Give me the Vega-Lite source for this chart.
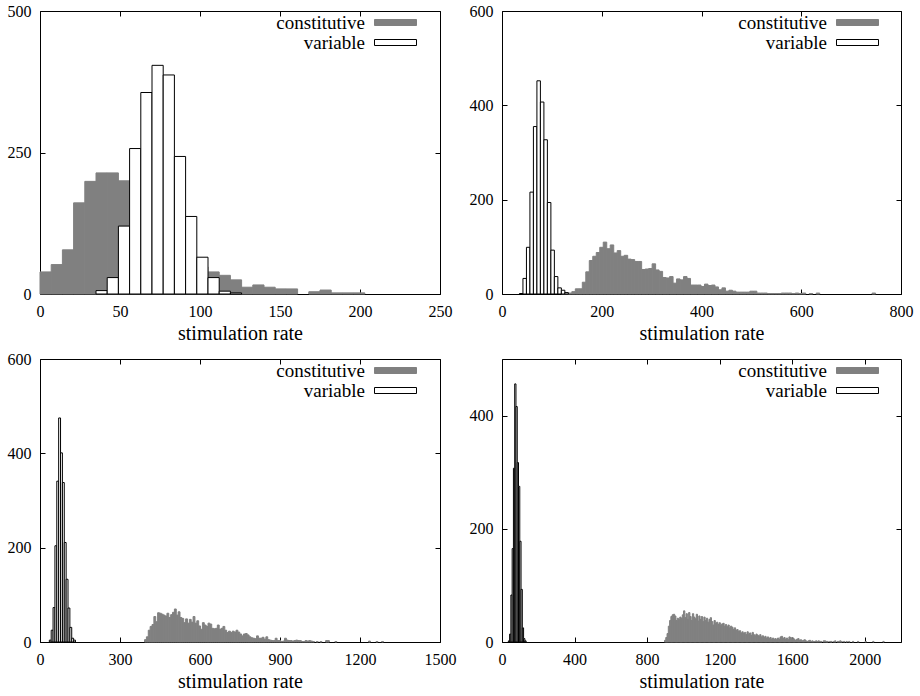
{
"$schema": "https://vega.github.io/schema/vega-lite/v6.json",
"padding": {"left": 6, "top": 2, "right": 5, "bottom": 3},
"background": "white",
"config": {
 "view": {"stroke": "#000000", "strokeWidth": 1},
 "axis": {"grid": false, "domain": false, "tickColor": "#000000", "tickSize": -5, "tickWidth": 1, "labelColor": "#000000", "labelPadding": 14, "titleFontWeight": "normal", "titleColor": "#000000", "titlePadding": 4, "labelFlush": false, "labelOverlap": false, "format": "d"},
 "legend": {"title": null, "orient": "none", "legendX": 346, "legendY": 2, "symbolType": "M-3.5,-0.5H3.5V0.5H-3.5Z", "symbolSize": 144, "symbolStrokeWidth": 1, "symbolOpacity": 1, "labelColor": "#000000", "labelAlign": "right", "labelOffset": -40, "rowPadding": 0, "padding": 0}
},
"datasets": {
 "p1": [
  {"series":"constitutive","start":0,"end":7,"count":39},
  {"series":"constitutive","start":7,"end":14,"count":52},
  {"series":"constitutive","start":14,"end":21,"count":78},
  {"series":"constitutive","start":21,"end":28,"count":161},
  {"series":"constitutive","start":28,"end":35,"count":199},
  {"series":"constitutive","start":35,"end":42,"count":214},
  {"series":"constitutive","start":42,"end":49,"count":214},
  {"series":"constitutive","start":49,"end":56,"count":200},
  {"series":"constitutive","start":56,"end":63,"count":172},
  {"series":"constitutive","start":63,"end":70,"count":145},
  {"series":"constitutive","start":70,"end":77,"count":120},
  {"series":"constitutive","start":77,"end":84,"count":100},
  {"series":"constitutive","start":84,"end":91,"count":80},
  {"series":"constitutive","start":91,"end":98,"count":62},
  {"series":"constitutive","start":98,"end":105,"count":48},
  {"series":"constitutive","start":105,"end":112,"count":39},
  {"series":"constitutive","start":112,"end":119,"count":33},
  {"series":"constitutive","start":119,"end":126,"count":25},
  {"series":"constitutive","start":126,"end":133,"count":12},
  {"series":"constitutive","start":133,"end":140,"count":16},
  {"series":"constitutive","start":140,"end":147,"count":12},
  {"series":"constitutive","start":147,"end":154,"count":9},
  {"series":"constitutive","start":154,"end":161,"count":9},
  {"series":"constitutive","start":168,"end":175,"count":4},
  {"series":"constitutive","start":175,"end":182,"count":7},
  {"series":"constitutive","start":182,"end":189,"count":2},
  {"series":"constitutive","start":189,"end":196,"count":2},
  {"series":"constitutive","start":196,"end":203,"count":2},
  {"series":"variable","start":35,"end":42,"count":6},
  {"series":"variable","start":42,"end":49,"count":29},
  {"series":"variable","start":49,"end":56,"count":120},
  {"series":"variable","start":56,"end":63,"count":257},
  {"series":"variable","start":63,"end":70,"count":356},
  {"series":"variable","start":70,"end":77,"count":404},
  {"series":"variable","start":77,"end":84,"count":387},
  {"series":"variable","start":84,"end":91,"count":243},
  {"series":"variable","start":91,"end":98,"count":137},
  {"series":"variable","start":98,"end":105,"count":65},
  {"series":"variable","start":105,"end":112,"count":29},
  {"series":"variable","start":112,"end":119,"count":5},
  {"series":"variable","start":119,"end":126,"count":2}
 ],
 "p2": [
  {"series":"constitutive","start":119,"end":126,"count":1},
  {"series":"constitutive","start":126,"end":133,"count":2},
  {"series":"constitutive","start":133,"end":140,"count":2},
  {"series":"constitutive","start":140,"end":147,"count":5},
  {"series":"constitutive","start":147,"end":154,"count":11},
  {"series":"constitutive","start":154,"end":161,"count":11},
  {"series":"constitutive","start":161,"end":168,"count":25},
  {"series":"constitutive","start":168,"end":175,"count":47},
  {"series":"constitutive","start":175,"end":182,"count":71},
  {"series":"constitutive","start":182,"end":189,"count":80},
  {"series":"constitutive","start":189,"end":196,"count":88},
  {"series":"constitutive","start":196,"end":203,"count":99},
  {"series":"constitutive","start":203,"end":210,"count":110},
  {"series":"constitutive","start":210,"end":217,"count":96},
  {"series":"constitutive","start":217,"end":224,"count":104},
  {"series":"constitutive","start":224,"end":231,"count":87},
  {"series":"constitutive","start":231,"end":238,"count":92},
  {"series":"constitutive","start":238,"end":245,"count":80},
  {"series":"constitutive","start":245,"end":252,"count":82},
  {"series":"constitutive","start":252,"end":259,"count":74},
  {"series":"constitutive","start":259,"end":266,"count":73},
  {"series":"constitutive","start":266,"end":273,"count":69},
  {"series":"constitutive","start":273,"end":280,"count":69},
  {"series":"constitutive","start":280,"end":287,"count":52},
  {"series":"constitutive","start":287,"end":294,"count":53},
  {"series":"constitutive","start":294,"end":301,"count":54},
  {"series":"constitutive","start":301,"end":308,"count":64},
  {"series":"constitutive","start":308,"end":315,"count":51},
  {"series":"constitutive","start":315,"end":322,"count":48},
  {"series":"constitutive","start":322,"end":329,"count":35},
  {"series":"constitutive","start":329,"end":336,"count":34},
  {"series":"constitutive","start":336,"end":343,"count":37},
  {"series":"constitutive","start":343,"end":350,"count":23},
  {"series":"constitutive","start":350,"end":357,"count":32},
  {"series":"constitutive","start":357,"end":364,"count":30},
  {"series":"constitutive","start":364,"end":371,"count":37},
  {"series":"constitutive","start":371,"end":378,"count":33},
  {"series":"constitutive","start":378,"end":385,"count":19},
  {"series":"constitutive","start":385,"end":392,"count":19},
  {"series":"constitutive","start":392,"end":399,"count":19},
  {"series":"constitutive","start":399,"end":406,"count":16},
  {"series":"constitutive","start":406,"end":413,"count":21},
  {"series":"constitutive","start":413,"end":420,"count":18},
  {"series":"constitutive","start":420,"end":427,"count":19},
  {"series":"constitutive","start":427,"end":434,"count":15},
  {"series":"constitutive","start":434,"end":441,"count":9},
  {"series":"constitutive","start":441,"end":448,"count":13},
  {"series":"constitutive","start":448,"end":455,"count":6},
  {"series":"constitutive","start":455,"end":462,"count":8},
  {"series":"constitutive","start":462,"end":469,"count":6},
  {"series":"constitutive","start":469,"end":476,"count":4},
  {"series":"constitutive","start":476,"end":483,"count":4},
  {"series":"constitutive","start":483,"end":490,"count":4},
  {"series":"constitutive","start":490,"end":497,"count":4},
  {"series":"constitutive","start":497,"end":504,"count":6},
  {"series":"constitutive","start":504,"end":511,"count":6},
  {"series":"constitutive","start":511,"end":518,"count":2},
  {"series":"constitutive","start":518,"end":525,"count":2},
  {"series":"constitutive","start":525,"end":532,"count":2},
  {"series":"constitutive","start":532,"end":539,"count":1},
  {"series":"constitutive","start":539,"end":546,"count":1},
  {"series":"constitutive","start":546,"end":553,"count":1},
  {"series":"constitutive","start":553,"end":560,"count":1},
  {"series":"constitutive","start":560,"end":567,"count":2},
  {"series":"constitutive","start":567,"end":574,"count":2},
  {"series":"constitutive","start":574,"end":581,"count":2},
  {"series":"constitutive","start":581,"end":588,"count":1},
  {"series":"constitutive","start":588,"end":595,"count":2},
  {"series":"constitutive","start":595,"end":602,"count":1},
  {"series":"constitutive","start":602,"end":609,"count":2},
  {"series":"constitutive","start":616,"end":623,"count":1},
  {"series":"constitutive","start":630,"end":637,"count":2},
  {"series":"constitutive","start":742,"end":749,"count":2},
  {"series":"variable","start":35,"end":42,"count":1},
  {"series":"variable","start":42,"end":49,"count":33},
  {"series":"variable","start":49,"end":56,"count":99},
  {"series":"variable","start":56,"end":63,"count":216},
  {"series":"variable","start":63,"end":70,"count":355},
  {"series":"variable","start":70,"end":77,"count":452},
  {"series":"variable","start":77,"end":84,"count":407},
  {"series":"variable","start":84,"end":91,"count":327},
  {"series":"variable","start":91,"end":98,"count":194},
  {"series":"variable","start":98,"end":105,"count":93},
  {"series":"variable","start":105,"end":112,"count":37},
  {"series":"variable","start":112,"end":119,"count":13},
  {"series":"variable","start":119,"end":126,"count":8},
  {"series":"variable","start":126,"end":133,"count":3}
 ],
 "p3": [
  {"series":"constitutive","start":392,"end":399,"count":5},
  {"series":"constitutive","start":399,"end":406,"count":11},
  {"series":"constitutive","start":406,"end":413,"count":25},
  {"series":"constitutive","start":413,"end":420,"count":33},
  {"series":"constitutive","start":420,"end":427,"count":37},
  {"series":"constitutive","start":427,"end":434,"count":54},
  {"series":"constitutive","start":434,"end":441,"count":43},
  {"series":"constitutive","start":441,"end":448,"count":62},
  {"series":"constitutive","start":448,"end":455,"count":61},
  {"series":"constitutive","start":455,"end":462,"count":59},
  {"series":"constitutive","start":462,"end":469,"count":57},
  {"series":"constitutive","start":469,"end":476,"count":55},
  {"series":"constitutive","start":476,"end":483,"count":61},
  {"series":"constitutive","start":483,"end":490,"count":52},
  {"series":"constitutive","start":490,"end":497,"count":58},
  {"series":"constitutive","start":497,"end":504,"count":63},
  {"series":"constitutive","start":504,"end":511,"count":70},
  {"series":"constitutive","start":511,"end":518,"count":57},
  {"series":"constitutive","start":518,"end":525,"count":64},
  {"series":"constitutive","start":525,"end":532,"count":52},
  {"series":"constitutive","start":532,"end":539,"count":50},
  {"series":"constitutive","start":539,"end":546,"count":41},
  {"series":"constitutive","start":546,"end":553,"count":49},
  {"series":"constitutive","start":553,"end":560,"count":40},
  {"series":"constitutive","start":560,"end":567,"count":48},
  {"series":"constitutive","start":567,"end":574,"count":42},
  {"series":"constitutive","start":574,"end":581,"count":54},
  {"series":"constitutive","start":581,"end":588,"count":40},
  {"series":"constitutive","start":588,"end":595,"count":45},
  {"series":"constitutive","start":595,"end":602,"count":34},
  {"series":"constitutive","start":602,"end":609,"count":27},
  {"series":"constitutive","start":609,"end":616,"count":41},
  {"series":"constitutive","start":616,"end":623,"count":36},
  {"series":"constitutive","start":623,"end":630,"count":33},
  {"series":"constitutive","start":630,"end":637,"count":40},
  {"series":"constitutive","start":637,"end":644,"count":38},
  {"series":"constitutive","start":644,"end":651,"count":29},
  {"series":"constitutive","start":651,"end":658,"count":28},
  {"series":"constitutive","start":658,"end":665,"count":29},
  {"series":"constitutive","start":665,"end":672,"count":36},
  {"series":"constitutive","start":672,"end":679,"count":27},
  {"series":"constitutive","start":679,"end":686,"count":29},
  {"series":"constitutive","start":686,"end":693,"count":33},
  {"series":"constitutive","start":693,"end":700,"count":25},
  {"series":"constitutive","start":700,"end":707,"count":20},
  {"series":"constitutive","start":707,"end":714,"count":23},
  {"series":"constitutive","start":714,"end":721,"count":20},
  {"series":"constitutive","start":721,"end":728,"count":23},
  {"series":"constitutive","start":728,"end":735,"count":21},
  {"series":"constitutive","start":735,"end":742,"count":25},
  {"series":"constitutive","start":742,"end":749,"count":21},
  {"series":"constitutive","start":749,"end":756,"count":17},
  {"series":"constitutive","start":756,"end":763,"count":13},
  {"series":"constitutive","start":763,"end":770,"count":17},
  {"series":"constitutive","start":770,"end":777,"count":18},
  {"series":"constitutive","start":777,"end":784,"count":15},
  {"series":"constitutive","start":784,"end":791,"count":11},
  {"series":"constitutive","start":791,"end":798,"count":9},
  {"series":"constitutive","start":798,"end":805,"count":8},
  {"series":"constitutive","start":805,"end":812,"count":7},
  {"series":"constitutive","start":812,"end":819,"count":13},
  {"series":"constitutive","start":819,"end":826,"count":8},
  {"series":"constitutive","start":826,"end":833,"count":8},
  {"series":"constitutive","start":833,"end":840,"count":10},
  {"series":"constitutive","start":840,"end":847,"count":6},
  {"series":"constitutive","start":847,"end":854,"count":11},
  {"series":"constitutive","start":854,"end":861,"count":5},
  {"series":"constitutive","start":861,"end":868,"count":4},
  {"series":"constitutive","start":868,"end":875,"count":3},
  {"series":"constitutive","start":875,"end":882,"count":3},
  {"series":"constitutive","start":882,"end":889,"count":8},
  {"series":"constitutive","start":889,"end":896,"count":3},
  {"series":"constitutive","start":896,"end":903,"count":3},
  {"series":"constitutive","start":903,"end":910,"count":1},
  {"series":"constitutive","start":910,"end":917,"count":2},
  {"series":"constitutive","start":917,"end":924,"count":8},
  {"series":"constitutive","start":924,"end":931,"count":4},
  {"series":"constitutive","start":931,"end":938,"count":3},
  {"series":"constitutive","start":938,"end":945,"count":3},
  {"series":"constitutive","start":945,"end":952,"count":2},
  {"series":"constitutive","start":952,"end":959,"count":3},
  {"series":"constitutive","start":959,"end":966,"count":4},
  {"series":"constitutive","start":966,"end":973,"count":3},
  {"series":"constitutive","start":973,"end":980,"count":3},
  {"series":"constitutive","start":980,"end":987,"count":1},
  {"series":"constitutive","start":987,"end":994,"count":1},
  {"series":"constitutive","start":994,"end":1001,"count":3},
  {"series":"constitutive","start":1001,"end":1008,"count":2},
  {"series":"constitutive","start":1008,"end":1015,"count":3},
  {"series":"constitutive","start":1015,"end":1022,"count":2},
  {"series":"constitutive","start":1022,"end":1029,"count":1},
  {"series":"constitutive","start":1036,"end":1043,"count":1},
  {"series":"constitutive","start":1050,"end":1057,"count":1},
  {"series":"constitutive","start":1071,"end":1078,"count":3},
  {"series":"constitutive","start":1078,"end":1085,"count":3},
  {"series":"constitutive","start":1106,"end":1113,"count":1},
  {"series":"constitutive","start":1232,"end":1239,"count":2},
  {"series":"constitutive","start":1260,"end":1267,"count":1},
  {"series":"constitutive","start":1281,"end":1288,"count":1},
  {"series":"variable","start":35,"end":42,"count":4},
  {"series":"variable","start":42,"end":49,"count":25},
  {"series":"variable","start":49,"end":56,"count":73},
  {"series":"variable","start":56,"end":63,"count":204},
  {"series":"variable","start":63,"end":70,"count":341},
  {"series":"variable","start":70,"end":77,"count":475},
  {"series":"variable","start":77,"end":84,"count":401},
  {"series":"variable","start":84,"end":91,"count":338},
  {"series":"variable","start":91,"end":98,"count":211},
  {"series":"variable","start":98,"end":105,"count":133},
  {"series":"variable","start":105,"end":112,"count":72},
  {"series":"variable","start":112,"end":119,"count":31},
  {"series":"variable","start":119,"end":126,"count":8},
  {"series":"variable","start":126,"end":133,"count":4}
 ],
 "p4": [
  {"series":"constitutive","start":896,"end":903,"count":3},
  {"series":"constitutive","start":903,"end":910,"count":8},
  {"series":"constitutive","start":910,"end":917,"count":15},
  {"series":"constitutive","start":917,"end":924,"count":28},
  {"series":"constitutive","start":924,"end":931,"count":38},
  {"series":"constitutive","start":931,"end":938,"count":45},
  {"series":"constitutive","start":938,"end":945,"count":48},
  {"series":"constitutive","start":945,"end":952,"count":49},
  {"series":"constitutive","start":952,"end":959,"count":46},
  {"series":"constitutive","start":959,"end":966,"count":38},
  {"series":"constitutive","start":966,"end":973,"count":42},
  {"series":"constitutive","start":973,"end":980,"count":40},
  {"series":"constitutive","start":980,"end":987,"count":44},
  {"series":"constitutive","start":987,"end":994,"count":42},
  {"series":"constitutive","start":994,"end":1001,"count":48},
  {"series":"constitutive","start":1001,"end":1008,"count":55},
  {"series":"constitutive","start":1008,"end":1015,"count":43},
  {"series":"constitutive","start":1015,"end":1022,"count":50},
  {"series":"constitutive","start":1022,"end":1029,"count":40},
  {"series":"constitutive","start":1029,"end":1036,"count":52},
  {"series":"constitutive","start":1036,"end":1043,"count":45},
  {"series":"constitutive","start":1043,"end":1050,"count":38},
  {"series":"constitutive","start":1050,"end":1057,"count":50},
  {"series":"constitutive","start":1057,"end":1064,"count":44},
  {"series":"constitutive","start":1064,"end":1071,"count":41},
  {"series":"constitutive","start":1071,"end":1078,"count":49},
  {"series":"constitutive","start":1078,"end":1085,"count":37},
  {"series":"constitutive","start":1085,"end":1092,"count":46},
  {"series":"constitutive","start":1092,"end":1099,"count":40},
  {"series":"constitutive","start":1099,"end":1106,"count":45},
  {"series":"constitutive","start":1106,"end":1113,"count":36},
  {"series":"constitutive","start":1113,"end":1120,"count":44},
  {"series":"constitutive","start":1120,"end":1127,"count":38},
  {"series":"constitutive","start":1127,"end":1134,"count":42},
  {"series":"constitutive","start":1134,"end":1141,"count":35},
  {"series":"constitutive","start":1141,"end":1148,"count":40},
  {"series":"constitutive","start":1148,"end":1155,"count":43},
  {"series":"constitutive","start":1155,"end":1162,"count":36},
  {"series":"constitutive","start":1162,"end":1169,"count":30},
  {"series":"constitutive","start":1169,"end":1176,"count":38},
  {"series":"constitutive","start":1176,"end":1183,"count":33},
  {"series":"constitutive","start":1183,"end":1190,"count":35},
  {"series":"constitutive","start":1190,"end":1197,"count":31},
  {"series":"constitutive","start":1197,"end":1204,"count":34},
  {"series":"constitutive","start":1204,"end":1211,"count":29},
  {"series":"constitutive","start":1211,"end":1218,"count":32},
  {"series":"constitutive","start":1218,"end":1225,"count":33},
  {"series":"constitutive","start":1225,"end":1232,"count":28},
  {"series":"constitutive","start":1232,"end":1239,"count":31},
  {"series":"constitutive","start":1239,"end":1246,"count":27},
  {"series":"constitutive","start":1246,"end":1253,"count":30},
  {"series":"constitutive","start":1253,"end":1260,"count":25},
  {"series":"constitutive","start":1260,"end":1267,"count":28},
  {"series":"constitutive","start":1267,"end":1274,"count":26},
  {"series":"constitutive","start":1274,"end":1281,"count":22},
  {"series":"constitutive","start":1281,"end":1288,"count":25},
  {"series":"constitutive","start":1288,"end":1295,"count":21},
  {"series":"constitutive","start":1295,"end":1302,"count":22},
  {"series":"constitutive","start":1302,"end":1309,"count":19},
  {"series":"constitutive","start":1309,"end":1316,"count":20},
  {"series":"constitutive","start":1316,"end":1323,"count":16},
  {"series":"constitutive","start":1323,"end":1330,"count":18},
  {"series":"constitutive","start":1330,"end":1337,"count":15},
  {"series":"constitutive","start":1337,"end":1344,"count":17},
  {"series":"constitutive","start":1344,"end":1351,"count":13},
  {"series":"constitutive","start":1351,"end":1358,"count":18},
  {"series":"constitutive","start":1358,"end":1365,"count":14},
  {"series":"constitutive","start":1365,"end":1372,"count":16},
  {"series":"constitutive","start":1372,"end":1379,"count":12},
  {"series":"constitutive","start":1379,"end":1386,"count":17},
  {"series":"constitutive","start":1386,"end":1393,"count":13},
  {"series":"constitutive","start":1393,"end":1400,"count":11},
  {"series":"constitutive","start":1400,"end":1407,"count":14},
  {"series":"constitutive","start":1407,"end":1414,"count":12},
  {"series":"constitutive","start":1414,"end":1421,"count":10},
  {"series":"constitutive","start":1421,"end":1428,"count":13},
  {"series":"constitutive","start":1428,"end":1435,"count":9},
  {"series":"constitutive","start":1435,"end":1442,"count":11},
  {"series":"constitutive","start":1442,"end":1449,"count":8},
  {"series":"constitutive","start":1449,"end":1456,"count":10},
  {"series":"constitutive","start":1456,"end":1463,"count":7},
  {"series":"constitutive","start":1463,"end":1470,"count":9},
  {"series":"constitutive","start":1470,"end":1477,"count":6},
  {"series":"constitutive","start":1477,"end":1484,"count":8},
  {"series":"constitutive","start":1484,"end":1491,"count":5},
  {"series":"constitutive","start":1491,"end":1498,"count":7},
  {"series":"constitutive","start":1498,"end":1505,"count":5},
  {"series":"constitutive","start":1505,"end":1512,"count":6},
  {"series":"constitutive","start":1512,"end":1519,"count":4},
  {"series":"constitutive","start":1519,"end":1526,"count":7},
  {"series":"constitutive","start":1526,"end":1533,"count":5},
  {"series":"constitutive","start":1533,"end":1540,"count":9},
  {"series":"constitutive","start":1540,"end":1547,"count":10},
  {"series":"constitutive","start":1547,"end":1554,"count":6},
  {"series":"constitutive","start":1554,"end":1561,"count":8},
  {"series":"constitutive","start":1561,"end":1568,"count":5},
  {"series":"constitutive","start":1568,"end":1575,"count":7},
  {"series":"constitutive","start":1575,"end":1582,"count":4},
  {"series":"constitutive","start":1582,"end":1589,"count":9},
  {"series":"constitutive","start":1589,"end":1596,"count":8},
  {"series":"constitutive","start":1596,"end":1603,"count":5},
  {"series":"constitutive","start":1603,"end":1610,"count":7},
  {"series":"constitutive","start":1610,"end":1617,"count":4},
  {"series":"constitutive","start":1617,"end":1624,"count":3},
  {"series":"constitutive","start":1624,"end":1631,"count":5},
  {"series":"constitutive","start":1631,"end":1638,"count":6},
  {"series":"constitutive","start":1638,"end":1645,"count":3},
  {"series":"constitutive","start":1645,"end":1652,"count":4},
  {"series":"constitutive","start":1652,"end":1659,"count":2},
  {"series":"constitutive","start":1659,"end":1666,"count":3},
  {"series":"constitutive","start":1666,"end":1673,"count":4},
  {"series":"constitutive","start":1673,"end":1680,"count":2},
  {"series":"constitutive","start":1680,"end":1687,"count":1},
  {"series":"constitutive","start":1687,"end":1694,"count":2},
  {"series":"constitutive","start":1694,"end":1701,"count":3},
  {"series":"constitutive","start":1701,"end":1708,"count":1},
  {"series":"constitutive","start":1708,"end":1715,"count":2},
  {"series":"constitutive","start":1715,"end":1722,"count":1},
  {"series":"constitutive","start":1722,"end":1729,"count":1},
  {"series":"constitutive","start":1729,"end":1736,"count":2},
  {"series":"constitutive","start":1736,"end":1743,"count":1},
  {"series":"constitutive","start":1743,"end":1750,"count":2},
  {"series":"constitutive","start":1750,"end":1757,"count":1},
  {"series":"constitutive","start":1757,"end":1764,"count":1},
  {"series":"constitutive","start":1771,"end":1778,"count":2},
  {"series":"constitutive","start":1778,"end":1785,"count":2},
  {"series":"constitutive","start":1785,"end":1792,"count":1},
  {"series":"constitutive","start":1792,"end":1799,"count":1},
  {"series":"constitutive","start":1806,"end":1813,"count":1},
  {"series":"constitutive","start":1813,"end":1820,"count":1},
  {"series":"constitutive","start":1827,"end":1834,"count":1},
  {"series":"constitutive","start":1834,"end":1841,"count":2},
  {"series":"constitutive","start":1848,"end":1855,"count":1},
  {"series":"constitutive","start":1855,"end":1862,"count":1},
  {"series":"constitutive","start":1862,"end":1869,"count":2},
  {"series":"constitutive","start":1869,"end":1876,"count":1},
  {"series":"constitutive","start":1883,"end":1890,"count":1},
  {"series":"constitutive","start":1897,"end":1904,"count":1},
  {"series":"constitutive","start":1911,"end":1918,"count":1},
  {"series":"constitutive","start":1932,"end":1939,"count":1},
  {"series":"constitutive","start":1960,"end":1967,"count":1},
  {"series":"constitutive","start":2002,"end":2009,"count":1},
  {"series":"constitutive","start":2044,"end":2051,"count":1},
  {"series":"constitutive","start":2100,"end":2107,"count":1},
  {"series":"variable","start":35,"end":42,"count":2},
  {"series":"variable","start":42,"end":49,"count":14},
  {"series":"variable","start":49,"end":56,"count":83},
  {"series":"variable","start":56,"end":63,"count":165},
  {"series":"variable","start":63,"end":70,"count":307},
  {"series":"variable","start":70,"end":77,"count":456},
  {"series":"variable","start":77,"end":84,"count":416},
  {"series":"variable","start":84,"end":91,"count":317},
  {"series":"variable","start":91,"end":98,"count":275},
  {"series":"variable","start":98,"end":105,"count":178},
  {"series":"variable","start":105,"end":112,"count":93},
  {"series":"variable","start":112,"end":119,"count":25},
  {"series":"variable","start":119,"end":126,"count":6},
  {"series":"variable","start":126,"end":133,"count":2}
 ]
},
"columns": 2,
"spacing": {"column": 11, "row": 6},
"concat": [
 {"width": 400, "height": 283, "data": {"name": "p1"},
  "layer": [
   {"mark": {"type": "rect", "strokeWidth": 1},
    "encoding": {
     "x": {"field": "start", "type": "quantitative", "scale": {"domain": [0, 250], "nice": false, "zero": false}, "axis": {"values": [0, 50, 100, 150, 200, 250], "title": "stimulation rate", "labelFont": "serif", "labelFontSize": 16, "titleFont": "serif", "titleFontSize": 20}},
     "x2": {"field": "end"},
     "y": {"field": "count", "type": "quantitative", "scale": {"domain": [0, 500], "nice": false}, "axis": {"values": [0, 250, 500], "title": null, "labelFont": "serif", "labelFontSize": 16}},
     "y2": {"datum": 0},
     "fill": {"field": "series", "type": "nominal", "scale": {"domain": ["constitutive", "variable"], "range": ["#808080", "#ffffff"]}, "legend": {"labelFont": "serif", "labelFontSize": 19}},
     "stroke": {"field": "series", "type": "nominal", "scale": {"domain": ["constitutive", "variable"], "range": ["#808080", "#000000"]}, "legend": {"labelFont": "serif", "labelFontSize": 19}}
    }},
   {"mark": {"type": "point", "opacity": 0},
    "encoding": {
     "x": {"field": "start", "type": "quantitative", "scale": {"domain": [0, 250], "nice": false, "zero": false}, "axis": {"orient": "top", "values": [0, 50, 100, 150, 200, 250], "labels": false, "title": null}},
     "y": {"field": "count", "type": "quantitative", "scale": {"domain": [0, 500], "nice": false}, "axis": {"orient": "right", "values": [0, 250, 500], "labels": false, "title": null}}
    }}
  ],
  "resolve": {"axis": {"x": "independent", "y": "independent"}}
 },
 {"width": 399, "height": 283, "data": {"name": "p2"},
  "layer": [
   {"mark": {"type": "rect", "strokeWidth": 1},
    "encoding": {
     "x": {"field": "start", "type": "quantitative", "scale": {"domain": [0, 800], "nice": false, "zero": false}, "axis": {"values": [0, 200, 400, 600, 800], "title": "stimulation rate", "labelFont": "serif", "labelFontSize": 16, "titleFont": "serif", "titleFontSize": 20}},
     "x2": {"field": "end"},
     "y": {"field": "count", "type": "quantitative", "scale": {"domain": [0, 600], "nice": false}, "axis": {"values": [0, 200, 400, 600], "title": null, "labelFont": "serif", "labelFontSize": 16}},
     "y2": {"datum": 0},
     "fill": {"field": "series", "type": "nominal", "scale": {"domain": ["constitutive", "variable"], "range": ["#808080", "#ffffff"]}, "legend": {"labelFont": "serif", "labelFontSize": 19}},
     "stroke": {"field": "series", "type": "nominal", "scale": {"domain": ["constitutive", "variable"], "range": ["#808080", "#000000"]}, "legend": {"labelFont": "serif", "labelFontSize": 19}}
    }},
   {"mark": {"type": "point", "opacity": 0},
    "encoding": {
     "x": {"field": "start", "type": "quantitative", "scale": {"domain": [0, 800], "nice": false, "zero": false}, "axis": {"orient": "top", "values": [0, 200, 400, 600, 800], "labels": false, "title": null}},
     "y": {"field": "count", "type": "quantitative", "scale": {"domain": [0, 600], "nice": false}, "axis": {"orient": "right", "values": [0, 200, 400, 600], "labels": false, "title": null}}
    }}
  ],
  "resolve": {"axis": {"x": "independent", "y": "independent"}}
 },
 {"width": 400, "height": 283, "data": {"name": "p3"},
  "layer": [
   {"mark": {"type": "rect", "strokeWidth": 1},
    "encoding": {
     "x": {"field": "start", "type": "quantitative", "scale": {"domain": [0, 1500], "nice": false, "zero": false}, "axis": {"values": [0, 300, 600, 900, 1200, 1500], "title": "stimulation rate", "labelFont": "serif", "labelFontSize": 16, "titleFont": "serif", "titleFontSize": 20}},
     "x2": {"field": "end"},
     "y": {"field": "count", "type": "quantitative", "scale": {"domain": [0, 600], "nice": false}, "axis": {"values": [0, 200, 400, 600], "title": null, "labelFont": "serif", "labelFontSize": 16}},
     "y2": {"datum": 0},
     "fill": {"field": "series", "type": "nominal", "scale": {"domain": ["constitutive", "variable"], "range": ["#808080", "#ffffff"]}, "legend": {"labelFont": "serif", "labelFontSize": 19}},
     "stroke": {"field": "series", "type": "nominal", "scale": {"domain": ["constitutive", "variable"], "range": ["#808080", "#000000"]}, "legend": {"labelFont": "serif", "labelFontSize": 19}}
    }},
   {"mark": {"type": "point", "opacity": 0},
    "encoding": {
     "x": {"field": "start", "type": "quantitative", "scale": {"domain": [0, 1500], "nice": false, "zero": false}, "axis": {"orient": "top", "values": [0, 300, 600, 900, 1200, 1500], "labels": false, "title": null}},
     "y": {"field": "count", "type": "quantitative", "scale": {"domain": [0, 600], "nice": false}, "axis": {"orient": "right", "values": [0, 200, 400, 600], "labels": false, "title": null}}
    }}
  ],
  "resolve": {"axis": {"x": "independent", "y": "independent"}}
 },
 {"width": 399, "height": 283, "data": {"name": "p4"},
  "layer": [
   {"mark": {"type": "rect", "strokeWidth": 1},
    "encoding": {
     "x": {"field": "start", "type": "quantitative", "scale": {"domain": [0, 2200], "nice": false, "zero": false}, "axis": {"values": [0, 400, 800, 1200, 1600, 2000], "title": "stimulation rate", "labelFont": "serif", "labelFontSize": 16, "titleFont": "serif", "titleFontSize": 20}},
     "x2": {"field": "end"},
     "y": {"field": "count", "type": "quantitative", "scale": {"domain": [0, 500], "nice": false}, "axis": {"values": [0, 200, 400], "title": null, "labelFont": "serif", "labelFontSize": 16}},
     "y2": {"datum": 0},
     "fill": {"field": "series", "type": "nominal", "scale": {"domain": ["constitutive", "variable"], "range": ["#808080", "#ffffff"]}, "legend": {"labelFont": "serif", "labelFontSize": 19}},
     "stroke": {"field": "series", "type": "nominal", "scale": {"domain": ["constitutive", "variable"], "range": ["#808080", "#000000"]}, "legend": {"labelFont": "serif", "labelFontSize": 19}}
    }},
   {"mark": {"type": "point", "opacity": 0},
    "encoding": {
     "x": {"field": "start", "type": "quantitative", "scale": {"domain": [0, 2200], "nice": false, "zero": false}, "axis": {"orient": "top", "values": [0, 400, 800, 1200, 1600, 2000], "labels": false, "title": null}},
     "y": {"field": "count", "type": "quantitative", "scale": {"domain": [0, 500], "nice": false}, "axis": {"orient": "right", "values": [0, 200, 400], "labels": false, "title": null}}
    }}
  ],
  "resolve": {"axis": {"x": "independent", "y": "independent"}}
 }
],
"resolve": {"scale": {"fill": "independent", "stroke": "independent"}, "legend": {"fill": "independent", "stroke": "independent"}}
}
